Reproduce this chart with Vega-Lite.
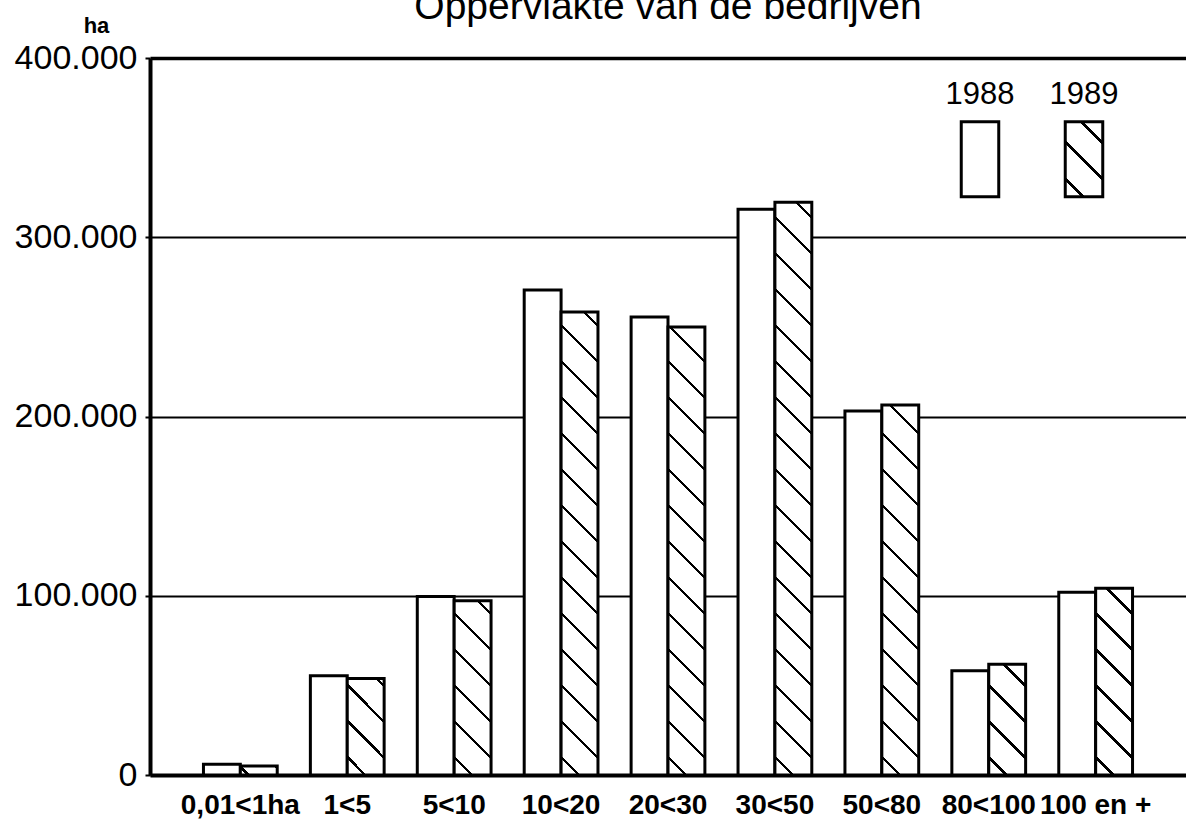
{
 "$schema": "https://vega.github.io/schema/vega-lite/v6.json",
 "width": 1036,
 "height": 717,
 "autosize": {"type": "none"},
 "padding": {"left": 150, "top": 58, "right": 0, "bottom": 60},
 "background": "white",
 "config": {
  "view": {"stroke": null},
  "locale": {"number": {"decimal": ",", "thousands": ".", "grouping": [3], "currency": ["", ""]}}
 },
 "title": {"text": "Oppervlakte van de bedrijven", "font": "Liberation Sans", "fontSize": 39, "fontWeight": "normal", "color": "black", "anchor": "middle", "frame": "group", "baseline": "alphabetic", "offset": -44},
 "data": {"values": [
  {"cat": "0,01<1ha", "year": "1988", "ha": 6000},
  {"cat": "0,01<1ha", "year": "1989", "ha": 5000},
  {"cat": "1<5", "year": "1988", "ha": 55400},
  {"cat": "1<5", "year": "1989", "ha": 53900},
  {"cat": "5<10", "year": "1988", "ha": 99600},
  {"cat": "5<10", "year": "1989", "ha": 97200},
  {"cat": "10<20", "year": "1988", "ha": 270600},
  {"cat": "10<20", "year": "1989", "ha": 258300},
  {"cat": "20<30", "year": "1988", "ha": 255500},
  {"cat": "20<30", "year": "1989", "ha": 249900},
  {"cat": "30<50", "year": "1988", "ha": 315600},
  {"cat": "30<50", "year": "1989", "ha": 319500},
  {"cat": "50<80", "year": "1988", "ha": 203100},
  {"cat": "50<80", "year": "1989", "ha": 206400},
  {"cat": "80<100", "year": "1988", "ha": 58200},
  {"cat": "80<100", "year": "1989", "ha": 61800},
  {"cat": "100 en +", "year": "1988", "ha": 101900},
  {"cat": "100 en +", "year": "1989", "ha": 104200}
 ]},
 "mark": {"type": "bar", "strokeWidth": 3, "strokeJoin": "miter"},
 "encoding": {
  "x": {"field": "cat", "type": "nominal", "sort": null,
   "scale": {"paddingInner": 0.31, "paddingOuter": 0.5},
   "axis": {"title": null, "labelAngle": 0, "labelFont": "Liberation Sans", "labelFontWeight": "bold", "labelFontSize": 28, "labelColor": "black", "labelPadding": 16, "ticks": false, "domainColor": "black", "domainWidth": 4, "labelLimit": 300}},
  "xOffset": {"field": "year", "type": "nominal", "scale": {"paddingInner": 0, "paddingOuter": 0}},
  "y": {"field": "ha", "type": "quantitative",
   "scale": {"domain": [0, 400000], "nice": false},
   "axis": {"title": "ha", "titleAngle": 0, "titleX": -54, "titleY": -26, "titleAlign": "center", "titleBaseline": "alphabetic", "titleFont": "Liberation Sans", "titleFontSize": 22, "titleFontWeight": "bold", "titleColor": "black",
    "values": [0, 100000, 200000, 300000, 400000], "format": ",d",
    "labelFont": "Liberation Sans", "labelFontSize": 34, "labelColor": "black", "labelPadding": 8,
    "tickSize": 5, "tickWidth": 2, "tickColor": "black", "domainColor": "black", "domainWidth": 4,
    "grid": true, "gridColor": "black", "gridOpacity": 1,
    "gridWidth": {"condition": {"test": "datum.value === 400000", "value": 3.5}, "value": 2}}},
  "stroke": {"field": "year", "type": "nominal", "scale": {"range": ["black", "black"]},
   "legend": {"title": null, "orient": "none", "legendX": 791, "legendY": 62, "direction": "horizontal",
    "symbolType": "M-0.5,-1H0.5V1H-0.5Z", "symbolSize": 5625, "symbolStrokeWidth": 3, "symbolStrokeColor": "black",
    "labelFont": "Liberation Sans", "labelFontSize": 31, "labelColor": "black", "labelAlign": "center", "labelBaseline": "middle", "labelOffset": 0,
    "columnPadding": 30, "padding": 0,
    "encoding": {
     "symbols": {"fill": {"condition": {"test": "datum.value === '1989'", "value": {"gradient": "linear", "x1": 0, "y1": 1, "x2": 0.6, "y2": -0.2, "stops": [
       {"offset":0.1464,"color":"#fff"},{"offset":0.1464,"color":"#000"},{"offset":0.1780,"color":"#000"},{"offset":0.1780,"color":"#fff"},
       {"offset":0.4707,"color":"#fff"},{"offset":0.4707,"color":"#000"},{"offset":0.5023,"color":"#000"},{"offset":0.5023,"color":"#fff"},
       {"offset":0.7950,"color":"#fff"},{"offset":0.7950,"color":"#000"},{"offset":0.8266,"color":"#000"},{"offset":0.8266,"color":"#fff"}]}},
      "value": "white"}},
     "labels": {"dx": {"value": -39}, "dy": {"value": -64}}
    }}},
  "fill": {"condition": [
   {"test": "datum.year === '1989' && datum.cat === '0,01<1ha'", "value": {"gradient": "linear", "x1": 0, "y1": 1, "x2": 1.1735, "y2": 0.715, "stops": [
    {"offset":0.1362,"color":"#fff"},{"offset":0.1362,"color":"#000"},{"offset":0.2126,"color":"#000"},{"offset":0.2126,"color":"#fff"},
    {"offset":0.9213,"color":"#fff"},{"offset":0.9213,"color":"#000"},{"offset":0.9975,"color":"#000"},{"offset":0.9975,"color":"#fff"}]}},
   {"test": "datum.year === '1989' && datum.cat === '1<5'", "value": {"gradient": "linear", "x1": 0, "y1": 1, "x2": 0.4606, "y2": -0.206, "stops": [
    {"offset":0.1217,"color":"#fff"},{"offset":0.1217,"color":"#000"},{"offset":0.1479,"color":"#000"},{"offset":0.1479,"color":"#fff"},
    {"offset":0.3913,"color":"#fff"},{"offset":0.3913,"color":"#000"},{"offset":0.4176,"color":"#000"},{"offset":0.4176,"color":"#fff"},
    {"offset":0.6610,"color":"#fff"},{"offset":0.6610,"color":"#000"},{"offset":0.6872,"color":"#000"},{"offset":0.6872,"color":"#fff"},
    {"offset":0.9306,"color":"#fff"},{"offset":0.9306,"color":"#000"},{"offset":0.9568,"color":"#000"},{"offset":0.9568,"color":"#fff"}]}},
   {"test": "datum.year === '1989' && datum.cat === '5<10'", "value": {"gradient": "linear", "x1": 0, "y1": 1, "x2": 0.2456, "y2": -0.1598, "stops": [
    {"offset":0.0770,"color":"#fff"},{"offset":0.0770,"color":"#000"},{"offset":0.0935,"color":"#000"},{"offset":0.0935,"color":"#fff"},
    {"offset":0.2475,"color":"#fff"},{"offset":0.2475,"color":"#000"},{"offset":0.2641,"color":"#000"},{"offset":0.2641,"color":"#fff"},
    {"offset":0.4180,"color":"#fff"},{"offset":0.4180,"color":"#000"},{"offset":0.4346,"color":"#000"},{"offset":0.4346,"color":"#fff"},
    {"offset":0.5885,"color":"#fff"},{"offset":0.5885,"color":"#000"},{"offset":0.6051,"color":"#000"},{"offset":0.6051,"color":"#fff"},
    {"offset":0.7590,"color":"#fff"},{"offset":0.7590,"color":"#000"},{"offset":0.7756,"color":"#000"},{"offset":0.7756,"color":"#fff"},
    {"offset":0.9295,"color":"#fff"},{"offset":0.9295,"color":"#000"},{"offset":0.9461,"color":"#000"},{"offset":0.9461,"color":"#fff"}]}},
   {"test": "datum.year === '1989' && datum.cat === '10<20'", "value": {"gradient": "linear", "x1": 0, "y1": 1, "x2": 0.0855, "y2": -0.0729, "stops": [
    {"offset":0.0325,"color":"#fff"},{"offset":0.0325,"color":"#000"},{"offset":0.0395,"color":"#000"},{"offset":0.0395,"color":"#fff"},
    {"offset":0.1045,"color":"#fff"},{"offset":0.1045,"color":"#000"},{"offset":0.1115,"color":"#000"},{"offset":0.1115,"color":"#fff"},
    {"offset":0.1765,"color":"#fff"},{"offset":0.1765,"color":"#000"},{"offset":0.1835,"color":"#000"},{"offset":0.1835,"color":"#fff"},
    {"offset":0.2486,"color":"#fff"},{"offset":0.2486,"color":"#000"},{"offset":0.2556,"color":"#000"},{"offset":0.2556,"color":"#fff"},
    {"offset":0.3206,"color":"#fff"},{"offset":0.3206,"color":"#000"},{"offset":0.3276,"color":"#000"},{"offset":0.3276,"color":"#fff"},
    {"offset":0.3926,"color":"#fff"},{"offset":0.3926,"color":"#000"},{"offset":0.3996,"color":"#000"},{"offset":0.3996,"color":"#fff"},
    {"offset":0.4646,"color":"#fff"},{"offset":0.4646,"color":"#000"},{"offset":0.4716,"color":"#000"},{"offset":0.4716,"color":"#fff"},
    {"offset":0.5366,"color":"#fff"},{"offset":0.5366,"color":"#000"},{"offset":0.5436,"color":"#000"},{"offset":0.5436,"color":"#fff"},
    {"offset":0.6086,"color":"#fff"},{"offset":0.6086,"color":"#000"},{"offset":0.6156,"color":"#000"},{"offset":0.6156,"color":"#fff"},
    {"offset":0.6807,"color":"#fff"},{"offset":0.6807,"color":"#000"},{"offset":0.6877,"color":"#000"},{"offset":0.6877,"color":"#fff"},
    {"offset":0.7527,"color":"#fff"},{"offset":0.7527,"color":"#000"},{"offset":0.7597,"color":"#000"},{"offset":0.7597,"color":"#fff"},
    {"offset":0.8247,"color":"#fff"},{"offset":0.8247,"color":"#000"},{"offset":0.8317,"color":"#000"},{"offset":0.8317,"color":"#fff"},
    {"offset":0.8967,"color":"#fff"},{"offset":0.8967,"color":"#000"},{"offset":0.9037,"color":"#000"},{"offset":0.9037,"color":"#fff"},
    {"offset":0.9687,"color":"#fff"},{"offset":0.9687,"color":"#000"},{"offset":0.9757,"color":"#000"},{"offset":0.9757,"color":"#fff"}]}},
   {"test": "datum.year === '1989' && datum.cat === '20<30'", "value": {"gradient": "linear", "x1": 0, "y1": 1, "x2": 0.0886, "y2": -0.0751, "stops": [
    {"offset":0.0335,"color":"#fff"},{"offset":0.0335,"color":"#000"},{"offset":0.0407,"color":"#000"},{"offset":0.0407,"color":"#fff"},
    {"offset":0.1078,"color":"#fff"},{"offset":0.1078,"color":"#000"},{"offset":0.1150,"color":"#000"},{"offset":0.1150,"color":"#fff"},
    {"offset":0.1820,"color":"#fff"},{"offset":0.1820,"color":"#000"},{"offset":0.1892,"color":"#000"},{"offset":0.1892,"color":"#fff"},
    {"offset":0.2563,"color":"#fff"},{"offset":0.2563,"color":"#000"},{"offset":0.2635,"color":"#000"},{"offset":0.2635,"color":"#fff"},
    {"offset":0.3305,"color":"#fff"},{"offset":0.3305,"color":"#000"},{"offset":0.3377,"color":"#000"},{"offset":0.3377,"color":"#fff"},
    {"offset":0.4048,"color":"#fff"},{"offset":0.4048,"color":"#000"},{"offset":0.4120,"color":"#000"},{"offset":0.4120,"color":"#fff"},
    {"offset":0.4790,"color":"#fff"},{"offset":0.4790,"color":"#000"},{"offset":0.4862,"color":"#000"},{"offset":0.4862,"color":"#fff"},
    {"offset":0.5533,"color":"#fff"},{"offset":0.5533,"color":"#000"},{"offset":0.5605,"color":"#000"},{"offset":0.5605,"color":"#fff"},
    {"offset":0.6275,"color":"#fff"},{"offset":0.6275,"color":"#000"},{"offset":0.6347,"color":"#000"},{"offset":0.6347,"color":"#fff"},
    {"offset":0.7018,"color":"#fff"},{"offset":0.7018,"color":"#000"},{"offset":0.7090,"color":"#000"},{"offset":0.7090,"color":"#fff"},
    {"offset":0.7760,"color":"#fff"},{"offset":0.7760,"color":"#000"},{"offset":0.7832,"color":"#000"},{"offset":0.7832,"color":"#fff"},
    {"offset":0.8503,"color":"#fff"},{"offset":0.8503,"color":"#000"},{"offset":0.8575,"color":"#000"},{"offset":0.8575,"color":"#fff"},
    {"offset":0.9245,"color":"#fff"},{"offset":0.9245,"color":"#000"},{"offset":0.9317,"color":"#000"},{"offset":0.9317,"color":"#fff"}]}},
   {"test": "datum.year === '1989' && datum.cat === '30<50'", "value": {"gradient": "linear", "x1": 0, "y1": 1, "x2": 0.0683, "y2": -0.06, "stops": [
    {"offset":0.0266,"color":"#fff"},{"offset":0.0266,"color":"#000"},{"offset":0.0324,"color":"#000"},{"offset":0.0324,"color":"#fff"},
    {"offset":0.0857,"color":"#fff"},{"offset":0.0857,"color":"#000"},{"offset":0.0915,"color":"#000"},{"offset":0.0915,"color":"#fff"},
    {"offset":0.1447,"color":"#fff"},{"offset":0.1447,"color":"#000"},{"offset":0.1505,"color":"#000"},{"offset":0.1505,"color":"#fff"},
    {"offset":0.2038,"color":"#fff"},{"offset":0.2038,"color":"#000"},{"offset":0.2096,"color":"#000"},{"offset":0.2096,"color":"#fff"},
    {"offset":0.2628,"color":"#fff"},{"offset":0.2628,"color":"#000"},{"offset":0.2686,"color":"#000"},{"offset":0.2686,"color":"#fff"},
    {"offset":0.3219,"color":"#fff"},{"offset":0.3219,"color":"#000"},{"offset":0.3277,"color":"#000"},{"offset":0.3277,"color":"#fff"},
    {"offset":0.3810,"color":"#fff"},{"offset":0.3810,"color":"#000"},{"offset":0.3868,"color":"#000"},{"offset":0.3868,"color":"#fff"},
    {"offset":0.4400,"color":"#fff"},{"offset":0.4400,"color":"#000"},{"offset":0.4458,"color":"#000"},{"offset":0.4458,"color":"#fff"},
    {"offset":0.4991,"color":"#fff"},{"offset":0.4991,"color":"#000"},{"offset":0.5049,"color":"#000"},{"offset":0.5049,"color":"#fff"},
    {"offset":0.5581,"color":"#fff"},{"offset":0.5581,"color":"#000"},{"offset":0.5639,"color":"#000"},{"offset":0.5639,"color":"#fff"},
    {"offset":0.6172,"color":"#fff"},{"offset":0.6172,"color":"#000"},{"offset":0.6230,"color":"#000"},{"offset":0.6230,"color":"#fff"},
    {"offset":0.6762,"color":"#fff"},{"offset":0.6762,"color":"#000"},{"offset":0.6820,"color":"#000"},{"offset":0.6820,"color":"#fff"},
    {"offset":0.7353,"color":"#fff"},{"offset":0.7353,"color":"#000"},{"offset":0.7411,"color":"#000"},{"offset":0.7411,"color":"#fff"},
    {"offset":0.7943,"color":"#fff"},{"offset":0.7943,"color":"#000"},{"offset":0.8001,"color":"#000"},{"offset":0.8001,"color":"#fff"},
    {"offset":0.8534,"color":"#fff"},{"offset":0.8534,"color":"#000"},{"offset":0.8592,"color":"#000"},{"offset":0.8592,"color":"#fff"},
    {"offset":0.9125,"color":"#fff"},{"offset":0.9125,"color":"#000"},{"offset":0.9183,"color":"#000"},{"offset":0.9183,"color":"#fff"},
    {"offset":0.9715,"color":"#fff"},{"offset":0.9715,"color":"#000"},{"offset":0.9773,"color":"#000"},{"offset":0.9773,"color":"#fff"}]}},
   {"test": "datum.year === '1989' && datum.cat === '50<80'", "value": {"gradient": "linear", "x1": 0, "y1": 1, "x2": 0.1086, "y2": -0.0889, "stops": [
    {"offset":0.0399,"color":"#fff"},{"offset":0.0399,"color":"#000"},{"offset":0.0485,"color":"#000"},{"offset":0.0485,"color":"#fff"},
    {"offset":0.1284,"color":"#fff"},{"offset":0.1284,"color":"#000"},{"offset":0.1370,"color":"#000"},{"offset":0.1370,"color":"#fff"},
    {"offset":0.2169,"color":"#fff"},{"offset":0.2169,"color":"#000"},{"offset":0.2255,"color":"#000"},{"offset":0.2255,"color":"#fff"},
    {"offset":0.3054,"color":"#fff"},{"offset":0.3054,"color":"#000"},{"offset":0.3140,"color":"#000"},{"offset":0.3140,"color":"#fff"},
    {"offset":0.3939,"color":"#fff"},{"offset":0.3939,"color":"#000"},{"offset":0.4025,"color":"#000"},{"offset":0.4025,"color":"#fff"},
    {"offset":0.4823,"color":"#fff"},{"offset":0.4823,"color":"#000"},{"offset":0.4909,"color":"#000"},{"offset":0.4909,"color":"#fff"},
    {"offset":0.5708,"color":"#fff"},{"offset":0.5708,"color":"#000"},{"offset":0.5794,"color":"#000"},{"offset":0.5794,"color":"#fff"},
    {"offset":0.6593,"color":"#fff"},{"offset":0.6593,"color":"#000"},{"offset":0.6679,"color":"#000"},{"offset":0.6679,"color":"#fff"},
    {"offset":0.7478,"color":"#fff"},{"offset":0.7478,"color":"#000"},{"offset":0.7564,"color":"#000"},{"offset":0.7564,"color":"#fff"},
    {"offset":0.8363,"color":"#fff"},{"offset":0.8363,"color":"#000"},{"offset":0.8449,"color":"#000"},{"offset":0.8449,"color":"#fff"},
    {"offset":0.9247,"color":"#fff"},{"offset":0.9247,"color":"#000"},{"offset":0.9333,"color":"#000"},{"offset":0.9333,"color":"#fff"}]}},
   {"test": "datum.year === '1989' && datum.cat === '80<100'", "value": {"gradient": "linear", "x1": 0, "y1": 1, "x2": 0.3997, "y2": -0.2, "stops": [
    {"offset":0.1100,"color":"#fff"},{"offset":0.1100,"color":"#000"},{"offset":0.1337,"color":"#000"},{"offset":0.1337,"color":"#fff"},
    {"offset":0.3538,"color":"#fff"},{"offset":0.3538,"color":"#000"},{"offset":0.3775,"color":"#000"},{"offset":0.3775,"color":"#fff"},
    {"offset":0.5976,"color":"#fff"},{"offset":0.5976,"color":"#000"},{"offset":0.6213,"color":"#000"},{"offset":0.6213,"color":"#fff"},
    {"offset":0.8414,"color":"#fff"},{"offset":0.8414,"color":"#000"},{"offset":0.8651,"color":"#000"},{"offset":0.8651,"color":"#fff"}]}},
   {"test": "datum.year === '1989' && datum.cat === '100 en +'", "value": {"gradient": "linear", "x1": 0, "y1": 1, "x2": 0.2277, "y2": -0.1526, "stops": [
    {"offset":0.0727,"color":"#fff"},{"offset":0.0727,"color":"#000"},{"offset":0.0883,"color":"#000"},{"offset":0.0883,"color":"#fff"},
    {"offset":0.2336,"color":"#fff"},{"offset":0.2336,"color":"#000"},{"offset":0.2492,"color":"#000"},{"offset":0.2492,"color":"#fff"},
    {"offset":0.3945,"color":"#fff"},{"offset":0.3945,"color":"#000"},{"offset":0.4102,"color":"#000"},{"offset":0.4102,"color":"#fff"},
    {"offset":0.5555,"color":"#fff"},{"offset":0.5555,"color":"#000"},{"offset":0.5711,"color":"#000"},{"offset":0.5711,"color":"#fff"},
    {"offset":0.7164,"color":"#fff"},{"offset":0.7164,"color":"#000"},{"offset":0.7321,"color":"#000"},{"offset":0.7321,"color":"#fff"},
    {"offset":0.8774,"color":"#fff"},{"offset":0.8774,"color":"#000"},{"offset":0.8930,"color":"#000"},{"offset":0.8930,"color":"#fff"}]}}
  ], "value": "white"}
 }
}
